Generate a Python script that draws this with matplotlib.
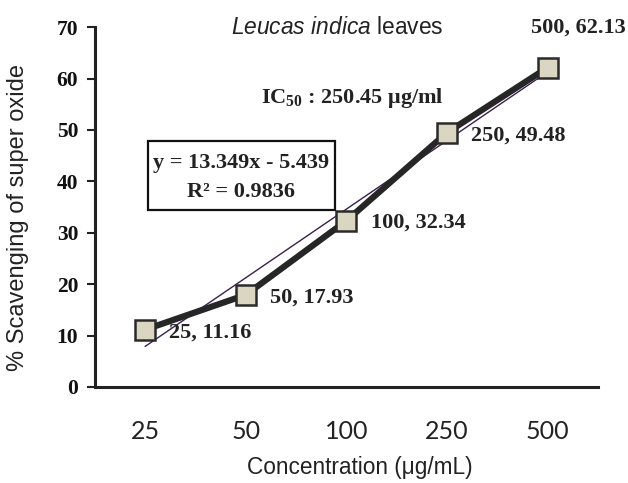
import matplotlib
matplotlib.use("Agg")
import matplotlib.pyplot as plt
from matplotlib.patches import Rectangle
import numpy as np

plt.rcParams["mathtext.fontset"] = "custom"
plt.rcParams["mathtext.it"] = "Liberation Sans:italic"
plt.rcParams["mathtext.rm"] = "Liberation Serif:bold"
plt.rcParams["mathtext.bf"] = "Liberation Serif:bold"

categories = ["25", "50", "100", "250", "500"]
scavenging = [11.16, 17.93, 32.34, 49.48, 62.13]
point_labels = ["25, 11.16", "50, 17.93", "100, 32.34", "250, 49.48", "500, 62.13"]
slope, intercept = 13.349, -5.439
yticks = [0, 10, 20, 30, 40, 50, 60, 70]

fig = plt.figure(figsize=(6.28, 4.83), dpi=100)
ax = fig.add_axes([0.1513, 0.1988, 0.8007, 0.745])

x = np.arange(len(categories))
trend_x = x + 1
trend = slope * trend_x + intercept
ax.plot(x, trend, color="#3a1f4f", lw=1.0, zorder=2)
ax.plot(x, scavenging, color="#262626", lw=4.5, solid_joinstyle="round", zorder=3)
ax.plot(x, scavenging, ls="none", marker="s", ms=14.5, mfc="#dbd6c1",
        mec="#2a2a2a", mew=1.8, zorder=4)

ax.set_xlim(-0.5, 4.5)
ax.set_ylim(0, 70)
ax.set_yticks(yticks)
ax.set_xticks(x)
ax.set_xticklabels(categories, family=["Lato", "DejaVu Sans"], fontsize=18, color="#222222")
ax.set_yticklabels([str(t) for t in yticks], family=["Liberation Serif"], fontweight="bold",
                   fontsize=15.5, color="#111111")
ax.tick_params(axis="x", length=0, pad=24)
ax.tick_params(axis="y", length=6, width=1.5, direction="out", pad=6, color="#222222")
for s in ["top", "right"]:
    ax.spines[s].set_visible(False)
for s in ["left", "bottom"]:
    ax.spines[s].set_linewidth(2.2)
    ax.spines[s].set_color("#222222")

ax.set_xlabel("Concentration (\u03bcg/mL)", family=["Liberation Sans"], fontsize=16.3, color="#222222")
ax.set_ylabel("% Scavenging of super oxide", family=["Liberation Sans"], fontsize=17, color="#222222")
ax.xaxis.set_label_coords(0.527, -0.225)
ax.yaxis.set_label_coords(-0.153, 0.472)
ax.xaxis.label.set_va("center")
ax.yaxis.label.set_va("center")

serif = dict(family=["Liberation Serif"], fontweight="bold", fontsize=16, color="#222222")
offsets = [(0.24, -0.5, "left"), (0.24, -0.6, "left"), (0.24, -0.45, "left"),
           (0.24, -0.5, "left"), (0.31, 7.7, "center")]
for xi, yi, lab, (dx, dy, ha) in zip(x, scavenging, point_labels, offsets):
    ax.text(xi + dx, yi + dy, lab, ha=ha, va="center", **serif)

ax.text(1.906, 70.0, "$\\it{Leucas\\ indica}$ leaves", ha="center", va="center",
        family=["Liberation Sans"], fontsize=16.4, color="#222222")
ax.text(2.055, 56.2, "IC$_{50}$ : 250.45 \u03bcg/ml", ha="center", va="center",
        family=["Liberation Serif"], fontweight="bold", fontsize=16, color="#222222")

ax.add_patch(Rectangle((0.027, 34.4), 1.859, 13.4, fc="white", ec="#111111", lw=1.6, zorder=5))
ax.text(0.951, 43.55, "y = 13.349x - 5.439", ha="center", va="center", zorder=6, **serif)
ax.text(0.951, 37.9, "R\u00b2 = 0.9836", ha="center", va="center", zorder=6, **serif)

fig.savefig("out.png", dpi=100)
